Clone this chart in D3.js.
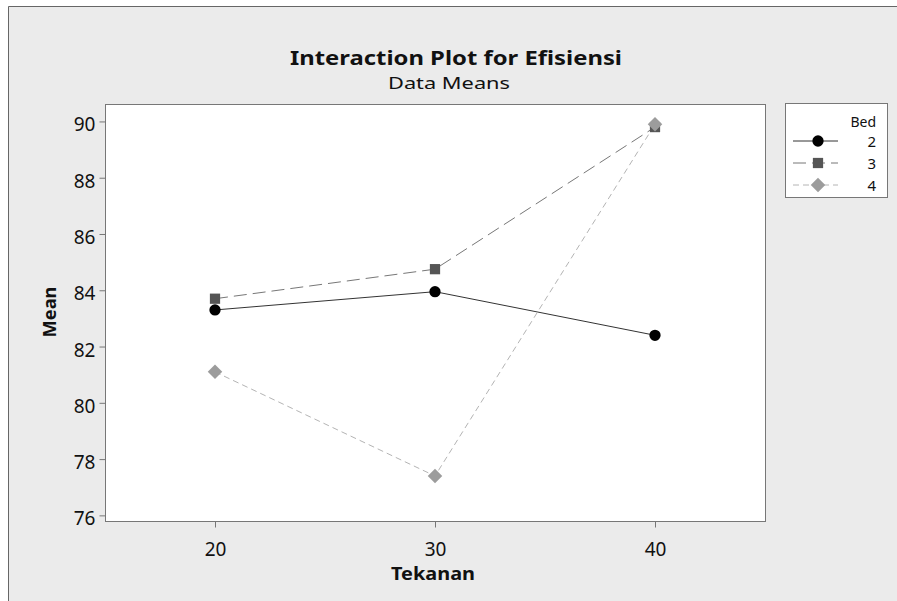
<!DOCTYPE html>
<html>
<head>
<meta charset="utf-8">
<script src="https://cdn.jsdelivr.net/npm/d3@7"></script>
<style>
    body { margin: 0; background: #fff; overflow: hidden; }
    svg { display: block; }
    svg text { font-family: "Noto Sans", "DejaVu Sans", sans-serif; fill: #111; }
</style>
</head>
<body>
<svg id="chart" width="897" height="601"></svg>
<script>
    "use strict";
    // data
    var tekanan = [20, 30, 40],
        beds = ["2", "3", "4"],
        bed2 = [83.3, 83.95, 82.4],
        bed3 = [83.7, 84.75, 89.8],
        bed4 = [81.1, 77.4, 89.9],
        yTicks = [76, 78, 80, 82, 84, 86, 88, 90];

    var diamond = {
        draw: function (ctx, size) {
            var r = Math.sqrt(size / 2);
            ctx.moveTo(0, -r); ctx.lineTo(r, 0); ctx.lineTo(0, r); ctx.lineTo(-r, 0); ctx.closePath();
        }
    };

    var series = [
        {name: beds[0], values: bed2, color: "#333", marker: "#000", dash: null, symbol: d3.symbolCircle, size: 100},
        {name: beds[1], values: bed3, color: "#777", marker: "#555", dash: "13,6", symbol: d3.symbolSquare, size: 105},
        {name: beds[2], values: bed4, color: "#b4b4b4", marker: "#9c9c9c", dash: "6,4", symbol: diamond, size: 105}
    ];

    var svg = d3.select("#chart");
    var plot = {left: 105, top: 104, right: 765, bottom: 521};

    // grey page with the Minitab frame (only left and top edges show)
    svg.append("rect").attr("x", 8).attr("y", 6).attr("width", 900).attr("height", 600).attr("fill", "#ebebeb");
    svg.append("path").attr("d", "M8.5,601V6.5H897").attr("fill", "none").attr("stroke", "#666");

    var x = d3.scaleLinear().domain([15, 45]).range([plot.left, plot.right]),
        y = d3.scaleLinear().domain([75.8, 90.62]).range([plot.bottom, plot.top]);

    svg.append("rect")
        .attr("x", plot.left + 0.5).attr("y", plot.top + 0.5)
        .attr("width", plot.right - plot.left).attr("height", plot.bottom - plot.top)
        .attr("fill", "#fff").attr("stroke", "#777");

    var xAxis = svg.append("g").attr("transform", "translate(0," + (plot.bottom + 0.5) + ")")
        .call(d3.axisBottom(x).tickValues(tekanan).tickSize(6).tickSizeOuter(0));
    var yAxis = svg.append("g").attr("transform", "translate(" + (plot.left + 0.5) + ",0)")
        .call(d3.axisLeft(y).tickValues(yTicks).tickSize(6).tickSizeOuter(0));
    [xAxis, yAxis].forEach(function (g) {
        g.select(".domain").remove();
        g.selectAll("line").attr("stroke", "#777");
        g.selectAll("text").style("font-size", "19px").attr("fill", "#111");
    });
    xAxis.selectAll("text").attr("y", 34).attr("dy", null);
    yAxis.selectAll("text").attr("x", -10).attr("dy", "0.5em");

    // titles
    svg.append("text").attr("x", 456).attr("y", 65).attr("text-anchor", "middle")
        .attr("textLength", 332).attr("lengthAdjust", "spacingAndGlyphs")
        .style("font-size", "19px").style("font-weight", "bold").text("Interaction Plot for Efisiensi");
    svg.append("text").attr("x", 449).attr("y", 89).attr("text-anchor", "middle")
        .attr("textLength", 122).attr("lengthAdjust", "spacingAndGlyphs")
        .style("font-size", "16px").text("Data Means");
    svg.append("text").attr("x", 433).attr("y", 580).attr("text-anchor", "middle")
        .attr("textLength", 84).attr("lengthAdjust", "spacingAndGlyphs")
        .style("font-size", "18px").style("font-weight", "bold").text("Tekanan");
    svg.append("text").attr("transform", "translate(56,312) rotate(-90)").attr("text-anchor", "middle")
        .attr("textLength", 51).attr("lengthAdjust", "spacingAndGlyphs")
        .style("font-size", "17px").style("font-weight", "bold").text("Mean");

    var line = d3.line().x(function (d, i) { return x(tekanan[i]); }).y(function (d) { return y(d); });

    series.forEach(function (s) {
        svg.append("path").datum(s.values).attr("d", line)
            .attr("fill", "none").attr("stroke", s.color).attr("stroke-width", 1)
            .attr("stroke-dasharray", s.dash);
    });
    series.forEach(function (s) {
        svg.selectAll(null).data(s.values).enter().append("path")
            .attr("d", d3.symbol().type(s.symbol).size(s.size))
            .attr("transform", function (d, i) { return "translate(" + x(tekanan[i]) + "," + y(d) + ")"; })
            .attr("fill", s.marker);
    });

    // legend
    var legend = svg.append("g").attr("transform", "translate(785,103)");
    legend.append("rect").attr("x", 0.5).attr("y", 0.5).attr("width", 102).attr("height", 94)
        .attr("fill", "#fff").attr("stroke", "#777");
    legend.append("text").attr("x", 91).attr("y", 24).attr("text-anchor", "end")
        .style("font-size", "14px").text("Bed");
    series.forEach(function (s, i) {
        var row = legend.append("g").attr("transform", "translate(0," + (38 + i * 22) + ")");
        row.append("line").attr("x1", 8).attr("x2", 53).attr("y1", 0).attr("y2", 0)
            .attr("stroke", s.color).attr("stroke-dasharray", s.dash);
        row.append("path").attr("d", d3.symbol().type(s.symbol).size(s.size))
            .attr("transform", "translate(33,0)").attr("fill", s.marker);
        row.append("text").attr("x", 91).attr("y", 6).attr("text-anchor", "end")
            .style("font-size", "15px").text(s.name);
    });
</script>
</body>
</html>
